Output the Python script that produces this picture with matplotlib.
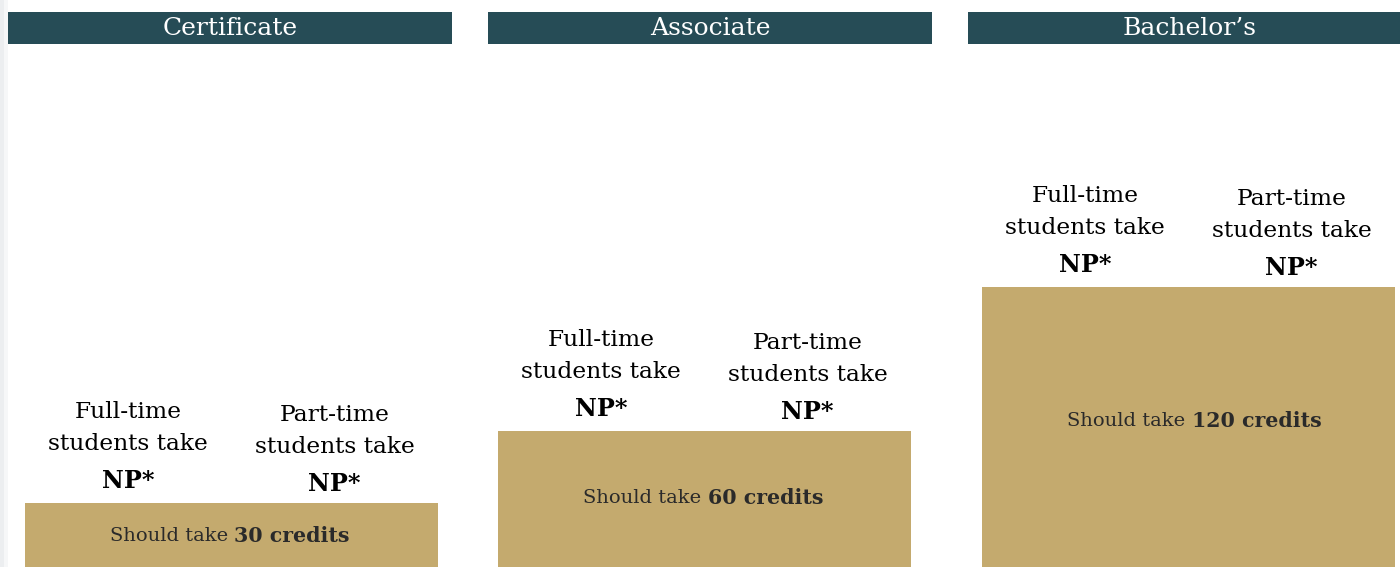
import matplotlib
matplotlib.use("Agg")
import matplotlib.pyplot as plt
from matplotlib.patches import Rectangle

# ---- data ----
degrees = ["Certificate", "Associate", "Bachelor\u2019s"]
credits = [30, 60, 120]
student_groups = [["Full-time", "students take"], ["Part-time", "students take"]]
group_values = [["NP*", "NP*"], ["NP*", "NP*"], ["NP*", "NP*"]]

W, H = 1400, 567
DPI = 100
fig = plt.figure(figsize=(W / DPI, H / DPI), dpi=DPI)
fig.patch.set_facecolor("white")

HEADER = "#264c56"
GOLD = "#c4aa6e"
SERIF = ["DejaVu Serif"]

def fx(px):
    return px / W

def fy(py):
    return 1 - py / H

# left light-grey edge
fig.patches.append(Rectangle((0, 0), fx(4), 1, transform=fig.transFigure,
                             facecolor="#eceef0", edgecolor="none", zorder=0))
fig.patches.append(Rectangle((fx(4), 0), fx(4), 1, transform=fig.transFigure,
                             facecolor="#f6f7f8", edgecolor="none", zorder=0))

header_x = [(8, 452), (488, 932), (968, 1412)]
bar_x = [(25, 438), (498, 911), (982, 1395)]
axes_bottom_px = 575      # baseline of bars lies just below the figure edge
axes_top_px = 44
px_per_credit = 2.4
ymax = (axes_bottom_px - axes_top_px) / px_per_credit

for i, (deg, val) in enumerate(zip(degrees, credits)):
    # header band
    hx0, hx1 = header_x[i]
    fig.patches.append(Rectangle((fx(hx0), fy(44)), fx(hx1 - hx0), (44 - 12) / H,
                                 transform=fig.transFigure, facecolor=HEADER,
                                 edgecolor="none", zorder=1))
    fig.text(fx((hx0 + hx1) / 2), fy(28.5), deg, color="white", fontsize=18,
             family=SERIF, ha="center", va="center")

    bx0, bx1 = bar_x[i]
    ax = fig.add_axes([fx(bx0), fy(axes_bottom_px), fx(bx1 - bx0),
                       (axes_bottom_px - axes_top_px) / H])
    ax.set_xlim(0, 1)
    ax.set_ylim(0, ymax)
    ax.axis("off")
    ax.bar(0.5, val, width=1.0, color=GOLD, edgecolor="none")

    # labels above the bar
    for j, (grp, v) in enumerate(zip(student_groups, group_values[i])):
        xc = 0.25 + 0.5 * j
        shift = 0 if j == 0 else 3
        ax.annotate(grp[0], xy=(xc, val), xytext=(0, 91 - shift),
                    textcoords="offset pixels", ha="center", va="center",
                    fontsize=16.8, family=SERIF, annotation_clip=False)
        ax.annotate(grp[1], xy=(xc, val), xytext=(0, 59 - shift),
                    textcoords="offset pixels", ha="center", va="center",
                    fontsize=16.8, family=SERIF, annotation_clip=False)
        ax.annotate(v, xy=(xc, val), xytext=(0, 22 - shift),
                    textcoords="offset pixels", ha="center", va="center",
                    fontsize=17.3, fontweight="bold", family=SERIF,
                    annotation_clip=False)

    # label inside the bar
    ymid = val * 0.535
    ax.annotate("Should take", xy=(0.5, ymid), xytext=(-3, 0),
                textcoords="offset pixels", ha="right", va="center",
                fontsize=14, family=SERIF, color="#2a2a2a")
    ax.annotate(f"{val} credits", xy=(0.5, ymid), xytext=(3, 0),
                textcoords="offset pixels", ha="left", va="center",
                fontsize=14.8, fontweight="bold", family=SERIF, color="#2a2a2a")

fig.savefig("out.png", dpi=DPI)
